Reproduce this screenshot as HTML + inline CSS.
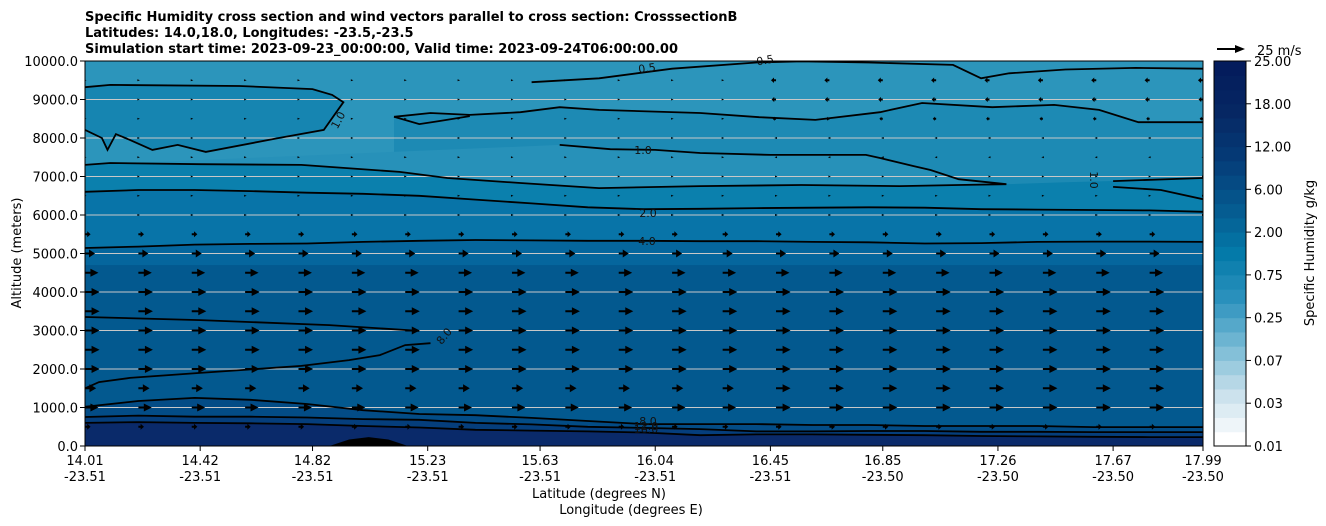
<!DOCTYPE html>
<html><head><meta charset="utf-8"><style>
body{margin:0;background:#fff;}
svg{display:block;font-family:"DejaVu Sans","Liberation Sans",sans-serif;}
</style></head><body>
<svg id="chart" width="1326" height="526" viewBox="0 0 1326 526" xmlns="http://www.w3.org/2000/svg">
<g font-weight="bold" font-size="13">
<text x="85" y="21">Specific Humidity cross section and wind vectors parallel to cross section: CrosssectionB</text>
<text x="85" y="37">Latitudes: 14.0,18.0, Longitudes: -23.5,-23.5</text>
<text x="85" y="53">Simulation start time: 2023-09-23_00:00:00, Valid time: 2023-09-24T06:00:00.00</text>
</g>
<defs><clipPath id="plotclip"><rect x="85" y="61" width="1118" height="385"/></clipPath></defs>
<g id="fills" clip-path="url(#plotclip)"></g>
<g id="grid"></g>
<g id="contours" clip-path="url(#plotclip)" fill="none" stroke="#000" stroke-width="1.8"></g>
<g id="arrows" clip-path="url(#plotclip)"></g>
<g id="clabels" font-size="11" fill="#111"></g>
<rect x="85" y="61" width="1118" height="385" fill="none" stroke="#000" stroke-width="1"/>
<g id="axes" font-size="13"></g>
<g id="cbar" font-size="13"></g>
<g>
<line x1="1217" y1="49" x2="1236" y2="49" stroke="#000" stroke-width="2"/>
<polygon points="1245,49 1235,45 1235,53" fill="#000"/>
<text x="1257" y="55" font-size="13">25 m/s</text>
</g>
<text x="0" y="0" font-size="13" text-anchor="middle" transform="translate(21,253) rotate(-90)">Altitude (meters)</text>
<text x="599" y="498" font-size="13" text-anchor="middle">Latitude (degrees N)</text>
<text x="631" y="514" font-size="13" text-anchor="middle">Longitude (degrees E)</text>
<text x="0" y="0" font-size="13" text-anchor="middle" transform="translate(1314,253) rotate(-90)">Specific Humidity g/kg</text>
</svg>
<script>
// ---- data ----
const latTicks=[14.01,14.42,14.82,15.23,15.63,16.04,16.45,16.85,17.26,17.67,17.99];
const lonTicks=["-23.51","-23.51","-23.51","-23.51","-23.51","-23.51","-23.51","-23.50","-23.50","-23.50","-23.50"];
const altTicks=[0,1000,2000,3000,4000,5000,6000,7000,8000,9000,10000];
const cbarTicks=["0.01","0.03","0.07","0.25","0.75","2.00","6.00","12.00","18.00","25.00"];
const gridLats=[14.0,14.2,14.4,14.6,14.8,15.0,15.2,15.4,15.6,15.8,16.0,16.2,16.4,16.6,16.8,17.0,17.2,17.4,17.6,17.8,18.0];
const c4Alt=[5140,5180,5230,5250,5260,5300,5330,5350,5340,5330,5330,5320,5320,5300,5290,5260,5270,5300,5310,5310,5300];
const c2Alt=[6600,6650,6650,6620,6580,6550,6500,6400,6300,6200,6150,6160,6180,6190,6200,6190,6150,6140,6130,6120,6080];
const c8Alt=[1010,1170,1250,1200,1090,930,830,800,730,650,570,570,570,545,545,520,520,520,490,490,490];
const c12Alt=[750,790,760,760,740,700,680,600,560,500,470,440,380,380,390,390,370,370,360,360,360];
const c16Alt=[600,620,600,590,570,520,480,420,400,380,350,280,300,300,290,280,260,250,240,230,230];
const loopLat=[14.01,14.10,14.56,14.82,14.89,14.93,14.86,14.70,14.44,14.34,14.25,14.17,14.12,14.09,14.07,14.01];
const loopAlt=[9320,9380,9350,9270,9120,8930,8210,8000,7640,7820,7690,7950,8100,7690,8000,8210];
const upLat=[15.11,15.24,15.38,15.56,15.70,15.84,16.20,16.41,16.61,16.84,16.99,17.24,17.46,17.62,17.76,17.99];
const upAlt=[8550,8650,8600,8670,8800,8730,8650,8540,8470,8670,8910,8800,8860,8730,8410,8410];
const upLowLat=[15.11,15.20,15.27,15.38];
const upLowAlt=[8550,8360,8440,8570];
const topLat=[15.60,15.84,16.10,16.40,16.56,16.80,17.10,17.20,17.30,17.50,17.75,17.99];
const topAlt=[9450,9550,9800,9960,9990,9960,9900,9550,9680,9780,9820,9800];
const tongueLat=[14.01,14.10,14.42,14.78,15.13,15.30,15.56,15.84,16.20,16.56,16.91,17.12,17.29,17.12,17.02,16.96,16.84,16.79,16.45,16.20,16.04,15.88,15.70];
const tongueAlt=[7300,7350,7320,7300,7120,6960,6830,6700,6750,6780,6750,6780,6800,6930,7170,7270,7480,7560,7560,7610,7690,7710,7820];
const midEdgeLat=[14.01,14.10,14.42,14.78,15.13,15.30,15.56,15.84,16.20,16.56,16.91,17.12,17.29,17.50,17.75,17.99];
const midEdgeAlt=[7300,7350,7320,7300,7120,6960,6830,6700,6750,6780,6750,6780,6800,6850,6900,6950];
const rA_Lat=[17.67,17.99], rA_Alt=[6880,6960];
const rB_Lat=[17.67,17.84,17.99], rB_Alt=[6730,6650,6410];
const moistUpLat=[14.01,14.42,14.88,15.20], moistUpAlt=[3350,3270,3140,2990];
const moistLowLat=[15.24,15.15,15.06,14.95,14.78,14.42,14.17,14.06,14.01];
const moistLowAlt=[2670,2620,2360,2230,2080,1900,1770,1660,1500];
const bumpLat=[14.88,14.95,15.02,15.09,15.16], bumpAlt=[0,170,230,170,0];
const windLevels=[500,1000,1500,2000,2500,3000,3500,4000,4500,5000,5500,6000,6500,7000,7500,8000,8500,9000,9500];
const uWest=[5,12,10,13,13,13,13,13,12,9,5,1.5,1,0.8,0.5,0.5,0.4,0.4,0.4];
const uEast=[5,13,13,13,13,13,13,13,12,9,5,1.5,1,0.8,-0.6,-1.5,-3,-4,-4.5];
const windCols=[14.01,14.20,14.39,14.58,14.77,14.96,15.15,15.34,15.53,15.72,15.91,16.10,16.28,16.47,16.66,16.85,17.04,17.23,17.42,17.61,17.80,17.99];

// ---- scales ----
const X=lat=>85+(lat-14.01)/3.98*1118;
const Y=alt=>446-alt/10000*385;
const NS="http://www.w3.org/2000/svg";
function mk(tag,attrs,parent){const e=document.createElementNS(NS,tag);for(const k in attrs)e.setAttribute(k,attrs[k]);parent.appendChild(e);return e;}
const pts=(lats,alts)=>lats.map((l,i)=>X(l).toFixed(1)+","+Y(alts[i]).toFixed(1));

const fills=document.getElementById('fills');
function rectBand(a0,a1,c,name){const r=mk('rect',{x:85,y:Y(a1),width:1118,height:Y(a0)-Y(a1),fill:c},fills);

}
function below(lats,alts,c,name){const p=pts(lats,alts);p.push(X(lats[lats.length-1])+",446",X(lats[0])+",446");
const e=mk('polygon',{points:p.join(" "),fill:c},fills);

}
function poly(lats,alts,c,name){const e=mk('polygon',{points:pts(lats,alts).join(" "),fill:c},fills);

}
rectBand(0,10000,'#2c95bb','band-top');
below(upLat,upAlt,'#1d8ab4','band-upper-east');
poly(loopLat,loopAlt,'#1685b1','band-upper-west');
poly(tongueLat,tongueAlt,'#2791b9','band-tongue');
below(midEdgeLat,midEdgeAlt,'#0b80ad','band-mid');
below(gridLats,c2Alt,'#0874a8','band-2');
below(gridLats,c4Alt,'#05669d','band-4');
rectBand(0,4700,'#03598f','band-5');
below(gridLats,c8Alt,'#034c86','band-8');
below(gridLats,c12Alt,'#053e7c','band-12');
below(gridLats,c16Alt,'#0a2a6a','band-16');
poly(bumpLat,bumpAlt,'#000','terrain-bump');

const grid=document.getElementById('grid');
altTicks.forEach(a=>{if(a>0&&a<10000){const l=mk('line',{x1:85,x2:1203,y1:Y(a),y2:Y(a),stroke:'#c8c8c8','stroke-width':1},grid);

}});

const cg=document.getElementById('contours');
function line(lats,alts,name){const e=mk('polyline',{points:pts(lats,alts).join(" ")},cg);

}
line(gridLats,c4Alt,'contour-4');
line(gridLats,c2Alt,'contour-2');
line(gridLats,c8Alt,'contour-8');
line(gridLats,c12Alt,'contour-12');
line(gridLats,c16Alt,'contour-16');
line(loopLat,loopAlt,'contour-1-west');
line(upLat,upAlt,'contour-upper');
line(upLowLat,upLowAlt,'contour-upper-low');
line(topLat,topAlt,'contour-0-5');
line(tongueLat,tongueAlt,'contour-1-tongue');
line(rA_Lat,rA_Alt,'contour-east-a');
line(rB_Lat,rB_Alt,'contour-east-b');
line(moistUpLat,moistUpAlt,'contour-8-upper');
line(moistLowLat,moistLowAlt,'contour-8-lower');

const ag=document.getElementById('arrows');
const pxPerMs=28/25;
windCols.forEach((lat,ci)=>{windLevels.forEach((alt,li)=>{
 const u=(lat<16.3?uWest:uEast)[li];
 const L=u*pxPerMs, x0=X(lat), y0=Y(alt), s=Math.sign(u)||1, a=Math.abs(L);
 let d;
 if(a<3){d=`M${x0-s*1} ${y0-1} L${x0+s*Math.max(a,1.5)} ${y0} L${x0-s*1} ${y0+1}Z`;}
 else{const hl=Math.min(8,a*0.6), hw=Math.min(4,1+a*0.35), sw=1;
  d=`M${x0} ${y0-sw} L${x0+s*(a-hl)} ${y0-sw} L${x0+s*(a-hl)} ${y0-hw} L${x0+s*a} ${y0} L${x0+s*(a-hl)} ${y0+hw} L${x0+s*(a-hl)} ${y0+sw} L${x0} ${y0+sw}Z`;}
 const p=mk('path',{d:d,fill:'#000'},ag);
 
 
});});

const lg=document.getElementById('clabels');
[["0.5",647,72,-8],["0.5",765,64,-10],["1.0",643,154,0],["1.0",338,124,-62],["2.0",648,217,0],["4.0",647,245,0],["8.0",444,340,-50],["8.0",648,425,0],["12.0",646,430,0],["16.0",646,433,0],["1.0",1094,184,90]].forEach(([t,x,y,r])=>{
 const e=mk('text',{x:x,y:y,'text-anchor':'middle',transform:`rotate(${r} ${x} ${y-4})`},lg);e.textContent=t;
 
 
});

const ax=document.getElementById('axes');
altTicks.forEach(a=>{const y=Y(a);mk('line',{x1:80,x2:85,y1:y,y2:y,stroke:'#000'},ax);
 const t=mk('text',{x:78,y:y+5,'text-anchor':'end'},ax);t.textContent=a.toFixed(1);
 
 });
latTicks.forEach((l,i)=>{const x=X(l);mk('line',{x1:x,x2:x,y1:446,y2:451,stroke:'#000'},ax);
 const t=mk('text',{x:x,y:465,'text-anchor':'middle'},ax);t.textContent=l.toFixed(2);
 
 
 const t2=mk('text',{x:x,y:481,'text-anchor':'middle'},ax);t2.textContent=lonTicks[i];
 
 });

const cb=document.getElementById('cbar');
const stops=[[255,255,255],[200,224,235],[120,186,212],[44,146,190],[4,122,169],[5,90,143],[5,60,120],[6,40,100],[4,28,92]];
const nb=27, cy0=61, ch=385;
for(let i=0;i<nb;i++){const f=i/(nb-1)*(stops.length-1), k=Math.min(Math.floor(f),stops.length-2), t=f-k;
 const c=stops[k].map((v,j)=>Math.round(v+(stops[k+1][j]-v)*t));
 const h=ch/nb;const r=mk('rect',{x:1214,y:cy0+ch-(i+1)*h,width:32,height:h+0.5,fill:`rgb(${c})`},cb);
 
 }
mk('rect',{x:1214,y:61,width:32,height:385,fill:'none',stroke:'#000'},cb);
cbarTicks.forEach((t,i)=>{const y=446-i*ch/(cbarTicks.length-1);mk('line',{x1:1246,x2:1251,y1:y,y2:y,stroke:'#000'},cb);
 const e=mk('text',{x:1254,y:y+5},cb);e.textContent=t;
 
 });
</script>
</body></html>
